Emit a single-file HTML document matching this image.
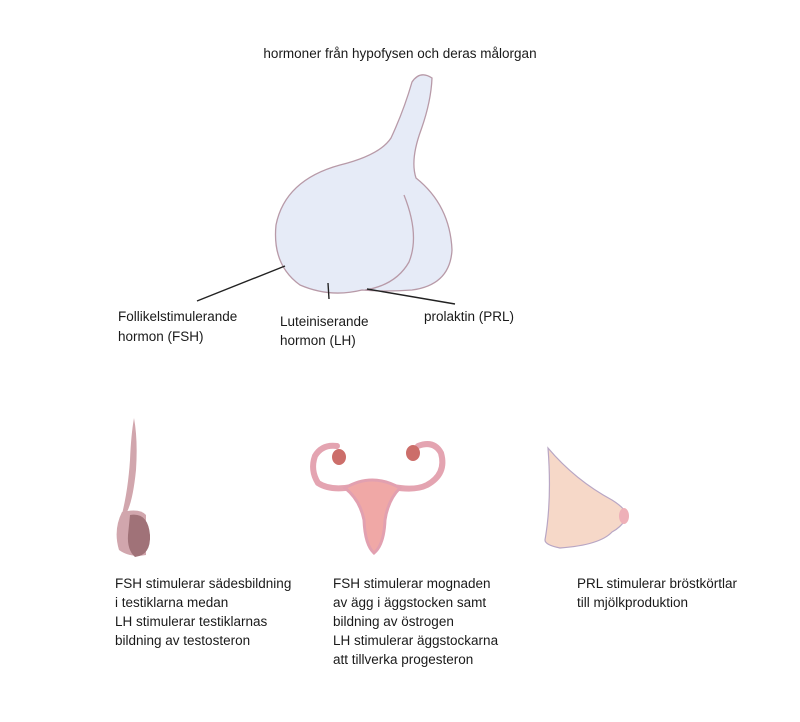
<!DOCTYPE html>
<html><head><meta charset="utf-8"><style>
body{margin:0;background:#fff;width:800px;height:722px;overflow:hidden;font-family:"Liberation Sans",sans-serif;}
svg{position:absolute;left:0;top:0}
svg text{font-family:"Liberation Sans",sans-serif;font-size:13.5px;fill:#1a1a1a}
</style></head><body>
<svg width="800" height="722" viewBox="0 0 800 722">
<text x="400" y="58" text-anchor="middle">hormoner från hypofysen och deras målorgan</text>
<path d="M412,82 Q420,70 432,78 Q431,102 421,130 Q410,160 416,178 Q450,205 452,250 Q450,285 412,290 Q385,292 362,290 Q330,298 300,285 Q272,265 276,225 Q285,180 340,165 Q380,155 391,138 Q404,110 412,82 Z" fill="#e6ebf7" stroke="#b89aa8" stroke-width="1.3"/>
<path d="M404,195 Q420,235 409,262 Q396,285 365,290" fill="none" stroke="#b89aa8" stroke-width="1.3"/>
<g stroke="#222" stroke-width="1.4">
<line x1="197" y1="301" x2="285" y2="266"/>
<line x1="328" y1="283" x2="329" y2="299"/>
<line x1="367" y1="289" x2="455" y2="304"/>
</g>
<text x="118" y="321">Follikelstimulerande</text>
<text x="118" y="341">hormon (FSH)</text>
<text x="280" y="326">Luteiniserande</text>
<text x="280" y="345">hormon (LH)</text>
<text x="424" y="321">prolaktin (PRL)</text>
<!-- male -->
<path d="M134,418 Q138,440 136,470 Q133,500 127,512 L122,514 Q128,490 130,460 Q131,435 134,418 Z" fill="#d1a6ad"/>
<path d="M122,512 Q140,508 146,515 L146,555 Q130,558 119,550 Q113,530 122,512 Z" fill="#d1a6ad"/>
<path d="M130,515 Q148,512 150,535 Q151,555 135,557 Q127,550 128,535 Z" fill="#a07278"/>
<!-- uterus -->
<path d="M352,487 Q330,491 318,483 Q310,470 315,456 Q322,444 337,446" fill="none" stroke="#e4a4b1" stroke-width="6" stroke-linecap="round"/>
<path d="M393,487 Q415,491 427,485 Q447,474 441,453 Q434,440 418,446" fill="none" stroke="#e4a4b1" stroke-width="6" stroke-linecap="round"/>
<path d="M345,488 Q372,472 400,488 Q388,500 385,520 Q384,545 374,553 Q365,545 364,520 Q360,500 345,488 Z" fill="#f0a8a6" stroke="#e2a0b0" stroke-width="3"/>
<ellipse cx="339" cy="457" rx="7" ry="8" fill="#cc6e6a"/>
<ellipse cx="413" cy="453" rx="7" ry="8" fill="#cc6e6a"/>
<!-- breast -->
<path d="M548,448 Q575,480 612,500 Q628,510 627,518 Q620,528 612,532 Q600,545 560,548 Q545,545 545,540 Q552,500 548,448 Z" fill="#f6d8c8" stroke="#b8a6c4" stroke-width="1.2"/>
<ellipse cx="624" cy="516" rx="5" ry="8" fill="#eeb0b8"/>
<g>
<text x="115" y="588">FSH stimulerar sädesbildning</text>
<text x="115" y="607">i testiklarna medan</text>
<text x="115" y="626">LH stimulerar testiklarnas</text>
<text x="115" y="645">bildning av testosteron</text>
<text x="333" y="588">FSH stimulerar mognaden</text>
<text x="333" y="607">av ägg i äggstocken samt</text>
<text x="333" y="626">bildning av östrogen</text>
<text x="333" y="645">LH stimulerar äggstockarna</text>
<text x="333" y="664">att tillverka progesteron</text>
<text x="577" y="588">PRL stimulerar bröstkörtlar</text>
<text x="577" y="607">till mjölkproduktion</text>
</g>
</svg>
</body></html>
